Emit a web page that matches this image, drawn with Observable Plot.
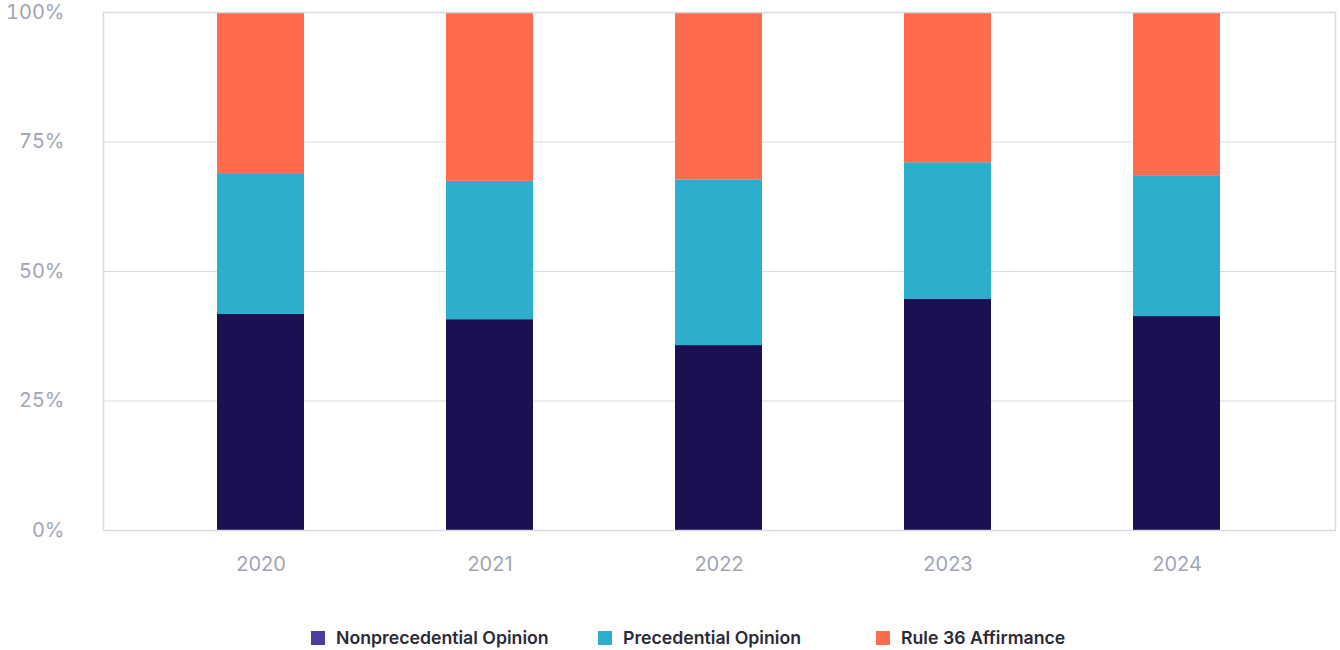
<!DOCTYPE html>
<html>
<head>
<meta charset="utf-8">
<script src="https://cdn.jsdelivr.net/npm/d3@7"></script>
<script src="https://cdn.jsdelivr.net/npm/@observablehq/plot@0.6"></script>
<style>
  html, body { margin: 0; padding: 0; background: #fff; }
  body { width: 1340px; height: 650px; overflow: hidden; font-family: Inter, "Noto Sans", sans-serif; }
  #legend { position: relative; height: 50px; }
  .item { position: absolute; top: 27px; display: flex; align-items: center; font-size: 17.7px; font-weight: 600; color: #2b2a36; white-space: nowrap; }
  .sw { width: 14px; height: 14px; margin-right: 11px; }
</style>
</head>
<body>
<div id="chart"></div>
<div id="legend"></div>
<script>
const years = ["2020", "2021", "2022", "2023", "2024"];
const series = ["Nonprecedential Opinion", "Precedential Opinion", "Rule 36 Affirmance"];
const nonprecedential = [0.417, 0.407, 0.357, 0.446, 0.413];
const precedential   = [0.272, 0.267, 0.320, 0.264, 0.272];
const rule36         = [0.311, 0.326, 0.323, 0.290, 0.315];
const barColors    = ["#1b1052", "#2daecd", "#ff6b4d"];
const legendColors = ["#4f3d9e", "#2daecd", "#ff6b4d"];
const yTicks = [0, 0.25, 0.5, 0.75, 1];

const valuesBySeries = [nonprecedential, precedential, rule36];
const data = [];
years.forEach((yr, i) => {
  series.forEach((s, j) => data.push({year: yr, series: s, value: valuesBySeries[j][i]}));
});

const grid = "#d8dbe3";
const plot = Plot.plot({
  width: 1340,
  height: 600,
  marginTop: 12,
  marginBottom: 70,
  marginLeft: 103,
  marginRight: 5,
  style: {fontFamily: "Inter, 'Noto Sans', sans-serif", fontSize: "20px", color: "#a1a6b3", background: "#fff"},
  x: {type: "band", domain: years, paddingInner: 0.62, paddingOuter: 0.49, label: null, tickSize: 0, tickPadding: 26},
  y: {domain: [0, 1], ticks: yTicks, tickFormat: d3.format(".0%"), label: null, tickSize: 0, tickPadding: 39},
  color: {domain: series, range: barColors},
  marks: [
    Plot.ruleY(yTicks.slice(1, -1), {stroke: grid, strokeWidth: 1.2}),
    Plot.barY(data, {x: "year", y: "value", fill: "series", order: series}),
    Plot.frame({stroke: grid, strokeWidth: 1.5})
  ]
});
document.getElementById("chart").appendChild(plot);

const lefts = [311, 598, 876];
const legend = document.getElementById("legend");
series.forEach((s, j) => {
  const it = document.createElement("div");
  it.className = "item";
  it.style.left = lefts[j] + "px";
  it.innerHTML = `<span class="sw" style="background:${legendColors[j]}"></span><span>${s}</span>`;
  legend.appendChild(it);
});
</script>
</body>
</html>
